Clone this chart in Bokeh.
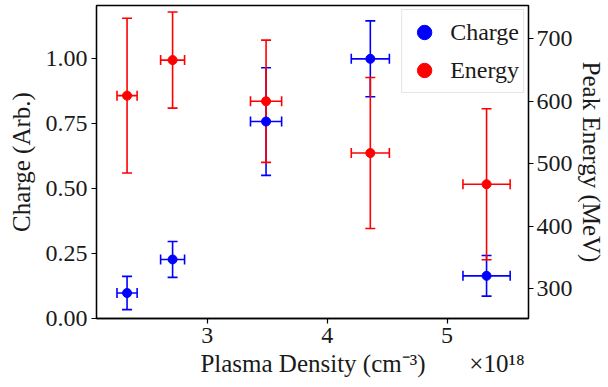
from bokeh.plotting import figure
from bokeh.models import (Range1d, LinearAxis, FixedTicker, NumeralTickFormatter,
                          Whisker, ColumnDataSource, Legend, LegendItem, TeeHead)
from bokeh.embed import file_html
from bokeh.resources import INLINE

# ---- data ----
density = [2.33, 2.71, 3.49, 4.36, 5.33]          # x 1e18 cm^-3
density_err = [0.084, 0.10, 0.13, 0.159, 0.197]
charge = [0.098, 0.227, 0.757, 0.998, 0.164]       # Arb.
charge_err = [0.064, 0.069, 0.207, 0.146, 0.078]
energy = [609, 666, 600, 517, 467]                 # MeV
energy_err = [124, 77, 98, 121, 121]

x_ticks = [3, 4, 5]
charge_ticks = [0.0, 0.25, 0.5, 0.75, 1.0]
energy_ticks = [300, 400, 500, 600, 700]
x_label = "Plasma Density (cm\u207b\u00b3)"
x_multiplier = "\u00d710\u00b9\u2078"

FONT = "Liberation Serif"
FS = "24px"
FS_LABEL = "25px"
BLUE = "#0000ff"
RED = "#ff0000"

p = figure(width=608, height=387, output_backend="svg", toolbar_location=None,
           x_range=Range1d(2.075, 5.68), y_range=Range1d(0, 1.203),
           min_border_left=96, min_border_right=80, min_border_top=5, min_border_bottom=69)
p.extra_y_ranges = {"energy": Range1d(251.8, 753.5)}
p.grid.visible = False
p.outline_line_color = "black"
p.outline_line_width = 1.3
p.background_fill_color = "white"
p.border_fill_color = "white"

right_axis = LinearAxis(y_range_name="energy")
p.add_layout(right_axis, "right")

for ax in [p.xaxis[0], p.yaxis[0], right_axis]:
    ax.major_label_text_font = FONT
    ax.major_label_text_font_size = FS
    ax.major_label_text_color = "#1a1a1a"
    ax.axis_label_text_font = FONT
    ax.axis_label_text_font_size = FS_LABEL
    ax.axis_label_text_font_style = "normal"
    ax.axis_label_text_color = "#1a1a1a"
    ax.major_tick_out = 5
    ax.major_tick_in = 0
    ax.minor_tick_out = 0
    ax.minor_tick_in = 0
    ax.major_tick_line_width = 1.2
    ax.axis_line_width = 1.3
    ax.major_label_standoff = 4

p.xaxis[0].ticker = FixedTicker(ticks=x_ticks)
# label centred on the frame, with the x10^18 multiplier pushed to the right edge
p.xaxis[0].axis_label = ("\u2003\u2003\u2003\u2003" + x_label + "\u2003\u2002 " + x_multiplier)
p.xaxis[0].axis_label_standoff = 4
p.yaxis[0].ticker = FixedTicker(ticks=charge_ticks)
p.yaxis[0].formatter = NumeralTickFormatter(format="0.00")
p.yaxis[0].axis_label = "Charge (Arb.)"
p.yaxis[0].axis_label_standoff = 8
right_axis.ticker = FixedTicker(ticks=energy_ticks)
right_axis.axis_label = "Peak Energy (MeV)"
right_axis.axis_label_standoff = 2
right_axis.major_label_standoff = 3

src_c = ColumnDataSource(dict(
    x=density, y=charge,
    xl=[a - b for a, b in zip(density, density_err)],
    xu=[a + b for a, b in zip(density, density_err)],
    yl=[a - b for a, b in zip(charge, charge_err)],
    yu=[a + b for a, b in zip(charge, charge_err)],
))
src_e = ColumnDataSource(dict(
    x=density, y=energy,
    xl=[a - b for a, b in zip(density, density_err)],
    xu=[a + b for a, b in zip(density, density_err)],
    yl=[a - b for a, b in zip(energy, energy_err)],
    yu=[a + b for a, b in zip(energy, energy_err)],
))


def add_errors(src, color, y_range_name="default"):
    kw = dict(source=src, line_color=color, line_width=1.6)
    for dim, base, lo, hi in [("height", "x", "yl", "yu"), ("width", "y", "xl", "xu")]:
        w = Whisker(base=base, lower=lo, upper=hi, dimension=dim,
                    upper_head=TeeHead(size=10, line_color=color, line_width=1.6),
                    lower_head=TeeHead(size=10, line_color=color, line_width=1.6),
                    y_range_name=y_range_name, **kw)
        p.add_layout(w)


add_errors(src_c, BLUE)
p.scatter("x", "y", source=src_c, size=9, color=BLUE)
add_errors(src_e, RED, "energy")
p.scatter("x", "y", source=src_e, size=9, color=RED, y_range_name="energy")

# legend proxies (placed off the visible range)
lc = p.scatter(x=[-100], y=[-100], size=15, color=BLUE)
le = p.scatter(x=[-100], y=[-100], size=15, color=RED)
legend = Legend(items=[LegendItem(label="Charge", renderers=[lc]),
                       LegendItem(label="Energy", renderers=[le])],
                location="top_right")
legend.label_text_font = FONT
legend.label_text_font_size = FS
legend.label_text_color = "#1a1a1a"
legend.border_line_color = "#cccccc"
legend.border_line_width = 1
legend.background_fill_alpha = 0.85
legend.glyph_width = 36
legend.glyph_height = 36
legend.spacing = 2
legend.padding = 4
legend.margin = 4
legend.label_standoff = 8
legend.label_height = 36
p.add_layout(legend)

open("out.html", "w").write(file_html(p, INLINE))
